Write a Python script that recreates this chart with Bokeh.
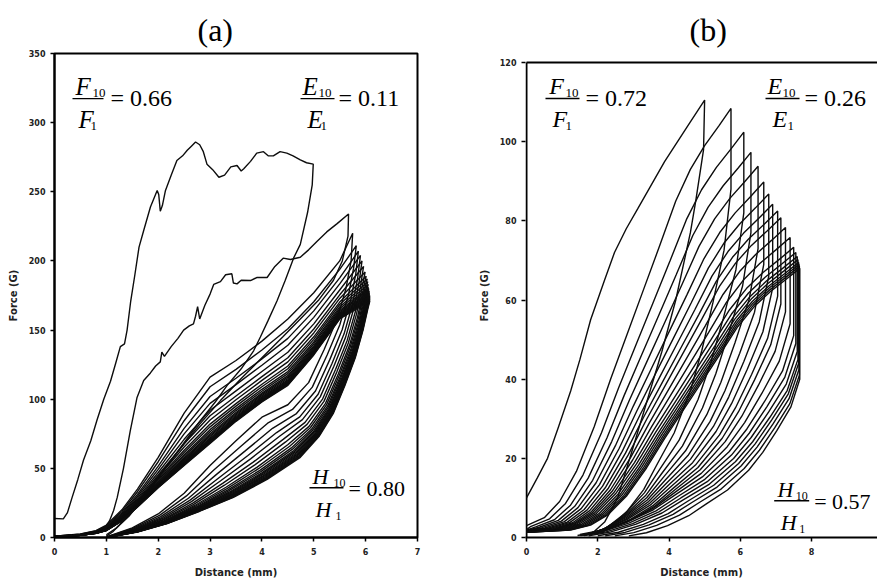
import numpy as np
from bokeh.plotting import figure
from bokeh.layouts import row
from bokeh.models import FixedTicker, Range1d
from bokeh.core.properties import value
from bokeh.embed import file_html
from bokeh.resources import INLINE

# ---------------- panel (a): repeated compression, 350 G scale ----------------
# first cycle (loading then unloading), distance in mm, force in G
a_c1_x = [0.00, 0.17, 0.25, 0.34, 0.45, 0.56, 0.70, 0.82, 0.95, 1.08, 1.18, 1.27, 1.35, 1.40,
          1.47, 1.55, 1.63, 1.72, 1.85, 1.98, 2.01, 2.04, 2.08, 2.14, 2.25, 2.36, 2.47, 2.56,
          2.64, 2.72, 2.80, 2.87, 2.94, 3.05, 3.17, 3.28, 3.40, 3.52, 3.60, 3.65, 3.78, 3.90,
          4.03, 4.12, 4.22, 4.35, 4.48, 4.60, 4.74, 4.86, 4.99,
          4.97, 4.88, 4.74, 4.61, 4.45, 4.29, 4.12, 3.97, 3.84, 3.60, 3.33, 3.10, 2.80, 2.45,
          2.10, 1.75, 1.45, 1.20, 1.00]
a_c1_f = [13.7, 13.5, 18, 29, 42, 56, 70, 85, 100, 113, 126, 138, 140, 150,
          171, 190, 210, 222, 239, 251, 248, 236, 240, 251, 262, 272.6, 276, 280,
          283, 286, 284, 279, 270, 266, 260.5, 262, 268, 269, 265, 266.6, 272, 278,
          279, 276, 276, 279, 278, 276, 273, 271, 270,
          255, 235, 212, 202, 186, 171, 157, 145, 135, 122, 110, 98, 84, 66,
          48, 30, 16, 7, 2]

# second cycle
a_c2_x = [0.00, 0.40, 0.70, 0.90, 0.98, 1.06, 1.14, 1.21, 1.33, 1.46, 1.59, 1.72, 1.85, 1.95,
          2.04, 2.07, 2.12, 2.25, 2.38, 2.49, 2.60, 2.68, 2.72, 2.76, 2.80, 2.90, 3.00, 3.07,
          3.20, 3.30, 3.42, 3.45, 3.52, 3.60, 3.78, 3.90, 4.10, 4.25, 4.41, 4.55, 4.74, 4.90,
          5.06, 5.25, 5.45, 5.67,
          5.66, 5.55, 5.38, 5.10, 4.74, 4.40, 4.00, 3.60, 3.20, 2.80, 2.40, 2.00, 1.65, 1.35,
          1.12, 1.00]
a_c2_f = [1, 1.5, 3, 5, 7.5, 12, 19.5, 29, 50, 77, 101, 113.5, 119, 124,
          127, 134, 131, 138, 144, 150, 153, 154.5, 160, 167, 158, 168, 176, 183,
          185, 190, 190.7, 184, 183.4, 186, 185.8, 188, 188, 196, 202, 201, 202.7, 208,
          214, 221, 227, 234,
          218, 200, 186, 172, 158, 145, 130, 115, 99, 82, 63, 44, 27, 13,
          4, 1]

# later cycles: edges of the loading family (same distance grid)
a_load_grid_x = [0.0, 0.5, 0.8, 1.0, 1.3, 1.6, 2.0, 2.5, 3.0, 3.5, 4.0, 4.5, 5.0, 5.5]
a_load_low_f = [0.5, 1.5, 3, 5, 12, 22, 36, 52, 68, 84, 98, 110, 132, 158]
a_load_high_f = [1, 2.5, 5, 9, 20, 35, 58, 90, 116, 128, 142, 158, 177, 200]
# edges of the unloading family (bottom to top)
a_unload_low_x = [1.08, 1.60, 2.17, 2.80, 3.45, 4.10, 4.74, 5.10, 5.38, 5.60, 5.80, 5.95, 6.04]
a_unload_low_f = [0.5, 4, 10, 19, 29, 42, 58, 73, 90, 110, 130, 150, 165]
a_unload_high_x = [1.00, 1.50, 2.00, 2.50, 3.00, 3.50, 4.00, 4.50, 4.90, 5.20, 5.45, 5.62, 5.72]
a_unload_high_f = [0.5, 7, 17, 32, 52, 70, 87, 96, 112, 136, 158, 180, 200]

# cycles 3..24: peak position, peak force, loading force at 3 mm, unloading force at 4 mm
a_peak_x = [5.75, 5.82, 5.86, 5.90, 5.93, 5.96, 5.99, 6.01, 6.03, 6.04, 6.05,
            6.05, 6.06, 6.06, 6.07, 6.07, 6.07, 6.08, 6.08, 6.08, 6.08, 6.08]
a_peak_f = [220, 211, 207, 204, 200, 196, 192, 189, 187, 185, 183,
            181, 180, 179, 178, 177, 176, 175, 174, 173, 172, 171]
a_load_f3 = [116, 109, 102, 97, 92, 88, 85, 82, 80, 78, 76.5,
             75, 74, 73, 72, 71.2, 70.5, 70, 69.5, 69, 68.5, 68]
a_unload_f4 = [87, 80, 74, 69, 65, 61, 58, 55, 53, 51, 49.5,
               48, 47, 46, 45, 44.2, 43.4, 42.6, 41.8, 41.2, 40.6, 40]

# ---------------- panel (b): 120 G scale ----------------
b_c1_x = [0.00, 0.30, 0.59, 0.90, 1.24, 1.50, 1.80, 2.19, 2.47, 2.80, 3.12, 3.50, 3.88, 4.24,
          4.60, 5.00,
          4.97, 4.75, 4.60, 4.19, 3.80, 3.40, 3.00, 2.56, 2.20, 1.90, 1.50]
b_c1_f = [10, 15, 20, 28, 37, 45, 55, 65, 72, 78, 83, 89, 95, 100,
          105, 110.5,
          98, 85, 77, 60, 47, 35, 23, 10, 4, 1.5, 0.8]

# loading profile (second cycle)
b_load_ref_x = [0.00, 0.50, 0.93, 1.40, 1.90, 2.36, 2.85, 3.30, 3.75, 4.19, 4.60, 5.00, 5.40, 5.74]
b_load_ref_f = [3, 5, 9.1, 16.7, 28, 40, 52, 63, 74, 85, 93, 99, 104, 108.4]
# unloading tail below the knee (last cycle)
b_tail_ref_x = [2.80, 3.30, 3.90, 4.50, 5.00, 5.60, 6.20, 6.60, 7.00, 7.40, 7.65]
b_tail_ref_f = [0.4, 1.2, 3, 5.5, 8.5, 12, 17, 21.5, 27, 33, 40]

# peaks of all cycles
b_peak_x = [5.00, 5.74, 6.10, 6.30, 6.50, 6.66, 6.80, 6.91, 7.05, 7.14,
            7.27, 7.40, 7.50, 7.56, 7.60, 7.62, 7.64, 7.65, 7.66, 7.67]
b_peak_f = [110.5, 108.4, 102.4, 97.3, 93.8, 89.8, 86.8, 84.2, 82.5, 80.8,
            78.3, 75.8, 73.3, 72.0, 71.0, 70.2, 69.5, 69.0, 68.5, 68.0]
# cycles 2..20: force where the straight drop after the peak ends
b_knee_f = [88, 82, 77, 73, 69, 66, 63, 61, 59, 57,
            54, 51, 49, 47, 45, 44, 42.5, 41, 40]
# distance where cycles 2..20 cross 16.7 G while loading and while unloading
b_level = 16.7
b_load_x_at_level = [1.40, 1.63, 1.82, 1.98, 2.12, 2.25, 2.37, 2.48, 2.58, 2.68,
                     2.77, 2.86, 2.94, 3.02, 3.09, 3.15, 3.21, 3.26, 3.30]
b_unload_x_at_level = [3.56, 3.70, 3.84, 3.98, 4.12, 4.26, 4.40, 4.54, 4.68, 4.82,
                       4.96, 5.10, 5.25, 5.40, 5.55, 5.70, 5.85, 6.02, 6.20]

INK = "#0d0d0d"
LW = 1.4

# plot-frame geometry (pixels per axis unit)
A_PX_X, A_PX_Y = 363 / 7.0, 484 / 350.0
B_PX_X, B_PX_Y = 35.625, 475.0 / 120.0
B_TOP = 120.0


def panel_a_cycles():
    gx = np.array(a_load_grid_x)
    lo, hi = np.array(a_load_low_f), np.array(a_load_high_f)
    ulx, ulf = np.array(a_unload_low_x), np.array(a_unload_low_f)
    uhx, uhf = np.array(a_unload_high_x), np.array(a_unload_high_f)
    lo3, hi3 = np.interp(3.0, gx, lo), np.interp(3.0, gx, hi)
    lo4, hi4 = np.interp(4.0, ulx, ulf), np.interp(4.0, uhx, uhf)
    xs, ys = [a_c1_x, a_c2_x], [a_c1_f, a_c2_f]
    for xp, fp, f3, f4 in zip(a_peak_x, a_peak_f, a_load_f3, a_unload_f4):
        w = (f3 - lo3) / (hi3 - lo3)
        load_f = lo + w * (hi - lo)
        wu = (f4 - lo4) / (hi4 - lo4)
        ux = (ulx + wu * (uhx - ulx))[::-1]
        uf = (ulf + wu * (uhf - ulf))[::-1]
        xs.append(list(gx) + [xp] + list(ux))
        ys.append(list(load_f) + [fp] + list(uf))
    return xs, ys


def panel_b_cycles():
    lrx, lrf = np.array(b_load_ref_x), np.array(b_load_ref_f)
    lu, lv = lrx / lrx[-1], lrf / lrf[-1]
    trx, trf = np.array(b_tail_ref_x), np.array(b_tail_ref_f)
    tu, tv = (trx - trx[0]) / (trx[-1] - trx[0]), trf / trf[-1]
    xs, ys = [b_c1_x], [b_c1_f]
    for i in range(1, len(b_peak_x)):
        xp, fp, fk = b_peak_x[i], b_peak_f[i], b_knee_f[i - 1]
        # loading branch through its 16.7 G crossing
        u = np.interp(b_level / fp, lv, lu)
        x_on = (b_load_x_at_level[i - 1] - u * xp) / (1 - u)
        load_x = x_on + lu * (xp - x_on)
        load_f = lv * fp
        if x_on > 0.01:
            load_x = np.concatenate([[0.0], load_x])
            load_f = np.concatenate([[load_f[0] * 0.7], load_f])
        # unloading: straight drop to the knee, then the tail through its 16.7 G crossing
        u = np.interp(b_level / fk, tv, tu)
        x_end = (b_unload_x_at_level[i - 1] - u * xp) / (1 - u)
        un_x = (x_end + tu * (xp - x_end))[::-1]
        un_f = (tv * fk)[::-1]
        xs.append(list(load_x) + list(un_x))
        ys.append(list(load_f) + list(un_f))
    return xs, ys


def style(p, xticks, yticks, title_offset):
    for ax in (p.xaxis[0], p.yaxis[0]):
        ax.axis_line_width = 2
        ax.axis_line_color = "black"
        ax.major_tick_line_width = 1.5
        ax.major_tick_line_color = "black"
        ax.major_tick_out = 4
        ax.major_tick_in = 0
        ax.minor_tick_line_color = None
        ax.major_label_text_font = "DejaVu Sans"
        ax.major_label_text_font_style = "bold"
        ax.major_label_text_font_size = "8px"
        ax.major_label_text_color = "#222222"
        ax.axis_label_text_font = "DejaVu Sans"
        ax.axis_label_text_font_style = "bold"
        ax.axis_label_text_font_size = "10px"
        ax.axis_label_text_color = "#222222"
    p.xaxis[0].ticker = FixedTicker(ticks=xticks)
    p.yaxis[0].ticker = FixedTicker(ticks=yticks)
    p.xaxis[0].major_label_standoff = 6
    p.xaxis[0].axis_label_standoff = 9
    p.yaxis[0].major_label_standoff = 5
    p.yaxis[0].axis_label_standoff = 7
    p.xaxis[0].axis_label = "Distance (mm)"
    p.yaxis[0].axis_label = "Force (G)"
    p.grid.visible = False
    p.background_fill_color = "white"
    p.border_fill_color = "white"
    p.title.text_font = "Liberation Serif"
    p.title.text_font_style = "normal"
    p.title.text_font_size = "32px"
    p.title.text_color = "black"
    p.title.align = "left"
    p.title.offset = title_offset
    p.title.standoff = 11


def ratio(p, sx, sy, x0, y0, letter, val, bar_len, dx_num, dx_sub, dx_den, dx_sub1, dx_eq,
          big=25, num=24, small=13):
    """Fraction such as F10/F1 = 0.66; x0, y0 = left end of the bar, offsets in pixels.
    Texts are centred vertically; the centre sits 0.34 em above the baseline."""
    def X(d):
        return x0 + d / sx

    def Y(base, size):
        return y0 + (base + 0.34 * size) / sy

    serif = value("Liberation Serif")
    p.segment(x0=[x0], y0=[y0], x1=[X(bar_len)], y1=[y0], line_color="black", line_width=1.4)
    common = dict(text_font=serif, text_color="black", text_align="left", text_baseline="middle")
    p.text(x=[X(dx_num), X(dx_den)], y=[Y(4, big), Y(-29, big)], text=[letter, letter],
           text_font_style="italic", text_font_size=f"{big}px", **common)
    p.text(x=[X(dx_sub), X(dx_sub1)], y=[Y(1, small), Y(-32, small)], text=["10", "1"],
           text_font_size=f"{small}px", **common)
    p.text(x=[X(dx_eq)], y=[Y(-8, num)], text=["= " + val], text_font_size=f"{num}px", **common)


# ---------------- figure (a) ----------------
pa = figure(width=437, height=582, x_range=Range1d(0, 7), y_range=Range1d(0, 350),
            output_backend="svg", toolbar_location=None, title="(a)",
            min_border_left=54, min_border_right=20, min_border_top=53, min_border_bottom=45)
style(pa, list(range(0, 8)), list(range(0, 351, 50)), 143)
pa.outline_line_color = "black"
pa.outline_line_width = 2
pa.outline_line_alpha = 1

xa, ya = panel_a_cycles()
pa.multi_line(xs=xa, ys=ya, line_color=INK, line_width=LW)

ratio(pa, A_PX_X, A_PX_Y, 0.347, 317.4, "F", "0.66", 31, 3, 20, 6, 18, 38)
ratio(pa, A_PX_X, A_PX_Y, 4.744, 317.4, "E", "0.11", 34, 2, 18, 7, 20, 38)
ratio(pa, A_PX_X, A_PX_Y, 4.917, 36.0, "H", "0.80", 34, 3, 24, 6, 26, 39, big=22, num=22, small=12)

# ---------------- figure (b) ----------------
# the frame reaches the page's right edge; the box is drawn on three sides only
b_x0 = -1 / B_PX_X
b_x1 = b_x0 + 352 / B_PX_X
b_y1 = B_TOP + 9 / B_PX_Y
pb = figure(width=440, height=582, x_range=Range1d(b_x0, b_x1), y_range=Range1d(0, b_y1),
            output_backend="svg", toolbar_location=None, title="(b)",
            min_border_left=88, min_border_right=0, min_border_top=53, min_border_bottom=45)
style(pb, [0, 2, 4, 6, 8, 10], list(range(0, 121, 20)), 164)
pb.outline_line_color = None
pb.yaxis[0].axis_line_color = None
pb.segment(x0=[0, 0], y0=[0, B_TOP], x1=[0, b_x1], y1=[B_TOP, B_TOP],
           line_color="black", line_width=2)

xb, yb = panel_b_cycles()
pb.multi_line(xs=xb, ys=yb, line_color=INK, line_width=LW)

ratio(pb, B_PX_X, B_PX_Y, 0.533, 110.9, "F", "0.72", 34, 3.7, 20, 7, 20, 40, big=24, num=24)
ratio(pb, B_PX_X, B_PX_Y, 6.709, 110.9, "E", "0.26", 34, 2, 17, 7, 22, 39, big=24, num=24)
ratio(pb, B_PX_X, B_PX_Y, 6.953, 9.29, "H", "0.57", 35, 3.3, 21.6, 6.6, 25, 40, big=22, num=22, small=12)

layout = row(pa, pb)
open("out.html", "w").write(file_html(layout, INLINE))
